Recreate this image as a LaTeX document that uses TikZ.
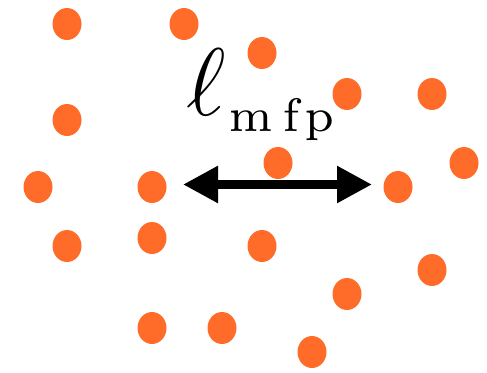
\RequirePackage{fix-cm}
\documentclass[tikz,border=0pt]{standalone}
\usetikzlibrary{arrows.meta,shapes.geometric}
\definecolor{dotorange}{RGB}{255,108,42}
\font\mfpfont=cmr7 at 47pt
\begin{document}
\begin{tikzpicture}[x=1pt,y=-1pt,
  dot/.style={ellipse,fill=dotorange,draw=none,minimum width=29pt,minimum height=32pt,inner sep=0pt},
  mfparrow/.style={line width=8.5pt,{Triangle[length=35pt,width=35pt]}-{Triangle[length=35pt,width=35pt]}}]
\useasboundingbox (0,0) rectangle (487,372);
\foreach \n/\x/\y in {1/67/24, 2/184/24, 3/262/53, 4/347/94, 5/432/94, 6/67/120,
  7/464/163, 8/278/163, 9/38/187, 10/152/187, 11/398/187, 12/67/246, 13/152/238,
  14/262/246, 15/432/270, 16/347/294, 17/152/328, 18/222/328, 19/312/352}
  \node[dot] (d\n) at (\x,\y) {};
\coordinate (L) at (183,184.5);
\coordinate (R) at (372,184.5);
\draw[mfparrow] (L) -- (R);
\node[anchor=base west,inner sep=0pt] (lbl) at (186,115)
  {\fontsize{96}{96}\selectfont$\ell$\raisebox{-16pt}{\mfpfont\kern3pt m\kern10pt f\kern5pt p}};
\end{tikzpicture}
\end{document}
